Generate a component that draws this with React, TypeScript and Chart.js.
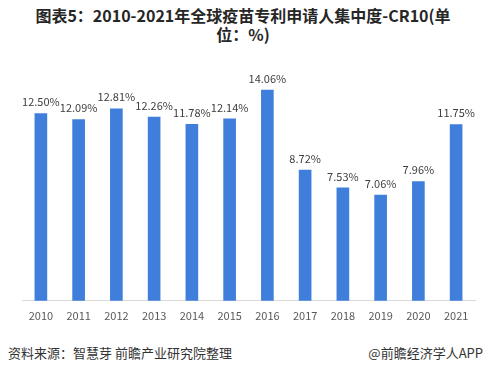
import React, { useEffect, useRef } from "react";
import { Chart, registerables } from "chart.js";

Chart.register(...registerables);

const years = ["2010", "2011", "2012", "2013", "2014", "2015", "2016", "2017", "2018", "2019", "2020", "2021"];
const cr10 = [12.5, 12.09, 12.81, 12.26, 11.78, 12.14, 14.06, 8.72, 7.53, 7.06, 7.96, 11.75];
const titleLine1 = "图表5：2010-2021年全球疫苗专利申请人集中度-CR10(单";
const titleLine2 = "位：%)";
const sourceText = "资料来源：智慧芽 前瞻产业研究院整理";
const brandText = "@前瞻经济学人APP";

const FONT = "'Microsoft YaHei', 'Noto Sans CJK SC', 'Noto Sans', sans-serif";

const labelPlugin = {
  id: "barLabels",
  afterDatasetsDraw(chart: any) {
    const ctx = chart.ctx;
    const meta = chart.getDatasetMeta(0);
    ctx.save();
    ctx.font = `11px ${FONT}`;
    ctx.fillStyle = "#404040";
    ctx.textAlign = "center";
    ctx.textBaseline = "bottom";
    meta.data.forEach((bar: any, i: number) => {
      ctx.fillText(cr10[i].toFixed(2) + "%", bar.x, bar.y - 6);
    });
    ctx.restore();
  },
};

export default function App() {
  const ref = useRef<HTMLCanvasElement>(null);
  useEffect(() => {
    if (!ref.current) return;
    const chart = new Chart(ref.current, {
      type: "bar",
      data: {
        labels: years,
        datasets: [
          {
            data: cr10,
            backgroundColor: "#3F7FDB",
            barThickness: 12,
          },
        ],
      },
      options: {
        animation: false,
        responsive: false,
        maintainAspectRatio: false,
        layout: { padding: { top: 13, left: 22, right: 11, bottom: 0 } },
        plugins: { legend: { display: false }, tooltip: { enabled: false } },
        scales: {
          x: {
            grid: { display: false, drawTicks: false },
            border: { display: true, color: "#D9D9D9", width: 1 },
            ticks: { color: "#595959", font: { size: 11, family: FONT }, padding: 8, maxRotation: 0, autoSkip: false },
          },
          y: {
            display: false,
            min: 0,
            max: 16,
          },
        },
      },
      plugins: [labelPlugin],
    });
    return () => chart.destroy();
  }, []);

  return (
    <div style={{ position: "absolute", left: 0, top: 0, width: 486, height: 375, background: "#fff", fontFamily: FONT, overflow: "hidden" }}>
      <div style={{ position: "absolute", top: 6, left: 0, width: 486, textAlign: "center", fontWeight: "bold", fontSize: 16, lineHeight: "19px", color: "#262626" }}>
        <div>{titleLine1}</div>
        <div>{titleLine2}</div>
      </div>
      <canvas ref={ref} width={486} height={282} style={{ position: "absolute", left: 0, top: 48, width: 486, height: 282 }} />
      <div style={{ position: "absolute", left: 8, top: 343, fontSize: 13, color: "#333", whiteSpace: "nowrap" }}>{sourceText}</div>
      <div style={{ position: "absolute", right: 3, top: 343, fontSize: 13, color: "#333", whiteSpace: "nowrap" }}>{brandText}</div>
    </div>
  );
}
